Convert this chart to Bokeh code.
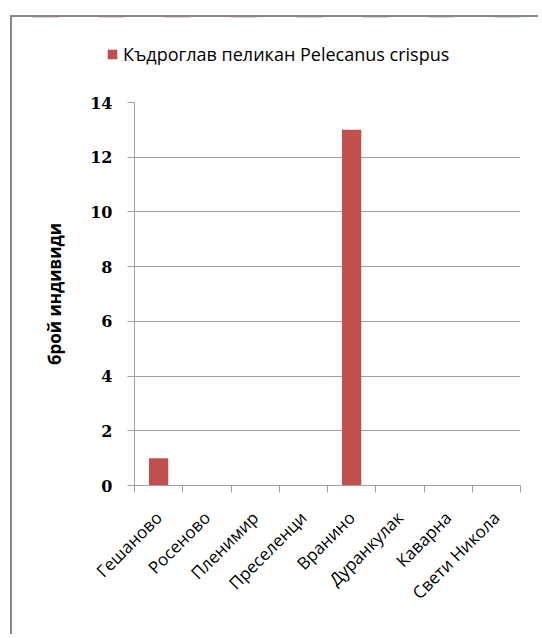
import math
from bokeh.plotting import figure
from bokeh.models import ColumnDataSource, FixedTicker, Legend, LegendItem, Range1d
from bokeh.embed import file_html
from bokeh.resources import INLINE

categories = ["Гешаново", "Росеново", "Пленимир", "Преселенци", "Вранино",
              "Дуранкулак", "Каварна", "Свети Никола"]
counts = [1, 0, 0, 0, 13, 0, 0, 0]
y_ticks = [0, 2, 4, 6, 8, 10, 12, 14]
series_name = "Къдроглав пеликан Pelecanus crispus"
y_label = "брой индивиди"

n = len(categories)
x_pos = [i + 0.5 for i in range(n)]
boundaries = list(range(n + 1))

GRID = "#a0a0a0"
BAR = "#C0504D"
BORDER = "2px solid #868686"
W = 528

src = ColumnDataSource(dict(x=x_pos, top=counts, name=categories))

# ---- legend strip (its own root, so its frame is not aligned to the chart) ----
lg = figure(width=W, height=67, output_backend="svg", toolbar_location=None,
            x_range=Range1d(0, n), y_range=Range1d(-2, -1),
            x_axis_type=None, y_axis_type=None,
            min_border_left=0, min_border_right=0, min_border_top=0, min_border_bottom=0)
lg.outline_line_color = None
lg.grid.visible = False
lg.styles = {"margin-left": "10px", "margin-top": "15px",
             "border-left": BORDER, "border-top": BORDER}
# same series, drawn outside this strip's view: it only feeds the legend swatch
lg_r = lg.vbar(x="x", top="top", width=0.4, source=src, fill_color=BAR, line_color=None)
legend = Legend(items=[LegendItem(label=series_name, renderers=[lg_r])],
                location=(94, 18), orientation="horizontal")
legend.padding = 0
legend.margin = 0
legend.spacing = 0
legend.border_line_color = None
legend.background_fill_alpha = 0
legend.glyph_width = 12
legend.glyph_height = 12
legend.label_standoff = 5
legend.label_height = 12
legend.label_text_font = "Open Sans"
legend.label_text_font_size = "18px"
legend.label_text_color = "black"
lg.add_layout(legend, "center")

# ---- main chart ----
p = figure(width=W, height=552, output_backend="svg", toolbar_location=None,
           x_range=Range1d(0, n), y_range=Range1d(0, y_ticks[-1]),
           min_border_left=122, min_border_right=20, min_border_top=20,
           min_border_bottom=149)
p.styles = {"margin-left": "10px", "border-left": BORDER}
p.outline_line_color = None
p.background_fill_color = "white"
p.border_fill_color = "white"

r = p.vbar(x="x", top="top", width=0.4, source=src, fill_color=BAR, line_color=None)

p.yaxis.ticker = FixedTicker(ticks=y_ticks, minor_ticks=[])
p.yaxis.axis_line_color = GRID
p.yaxis.major_tick_line_color = GRID
p.yaxis.major_tick_out = 7
p.yaxis.major_tick_in = 0
p.yaxis.minor_tick_line_color = None
p.yaxis.major_label_standoff = 15
p.yaxis.major_label_text_font = "DejaVu Serif"
p.yaxis.major_label_text_font_style = "bold"
p.yaxis.major_label_text_font_size = "16px"
p.yaxis.major_label_text_color = "black"
p.yaxis.axis_label = y_label
p.yaxis.axis_label_text_font = "Open Sans"
p.yaxis.axis_label_text_font_style = "bold"
p.yaxis.axis_label_text_font_size = "17px"
p.yaxis.axis_label_text_color = "black"
p.yaxis.axis_label_standoff = 21

p.xaxis.ticker = FixedTicker(ticks=x_pos, minor_ticks=boundaries)
p.xaxis.major_label_overrides = {x: c for x, c in zip(x_pos, categories)}
p.xaxis.axis_line_color = GRID
p.xaxis.major_tick_out = 0
p.xaxis.major_tick_in = 0
p.xaxis.major_tick_line_color = None
p.xaxis.minor_tick_out = 7
p.xaxis.minor_tick_in = 0
p.xaxis.minor_tick_line_color = GRID
p.xaxis.major_label_orientation = math.pi / 4
p.xaxis.major_label_standoff = 22
p.xaxis.major_label_text_font = "Open Sans"
p.xaxis.major_label_text_font_size = "17px"
p.xaxis.major_label_text_color = "black"

p.xgrid.grid_line_color = None
p.ygrid.ticker = FixedTicker(ticks=y_ticks, minor_ticks=[])
p.ygrid.grid_line_color = GRID

open("out.html", "w").write(file_html([lg, p], INLINE))
